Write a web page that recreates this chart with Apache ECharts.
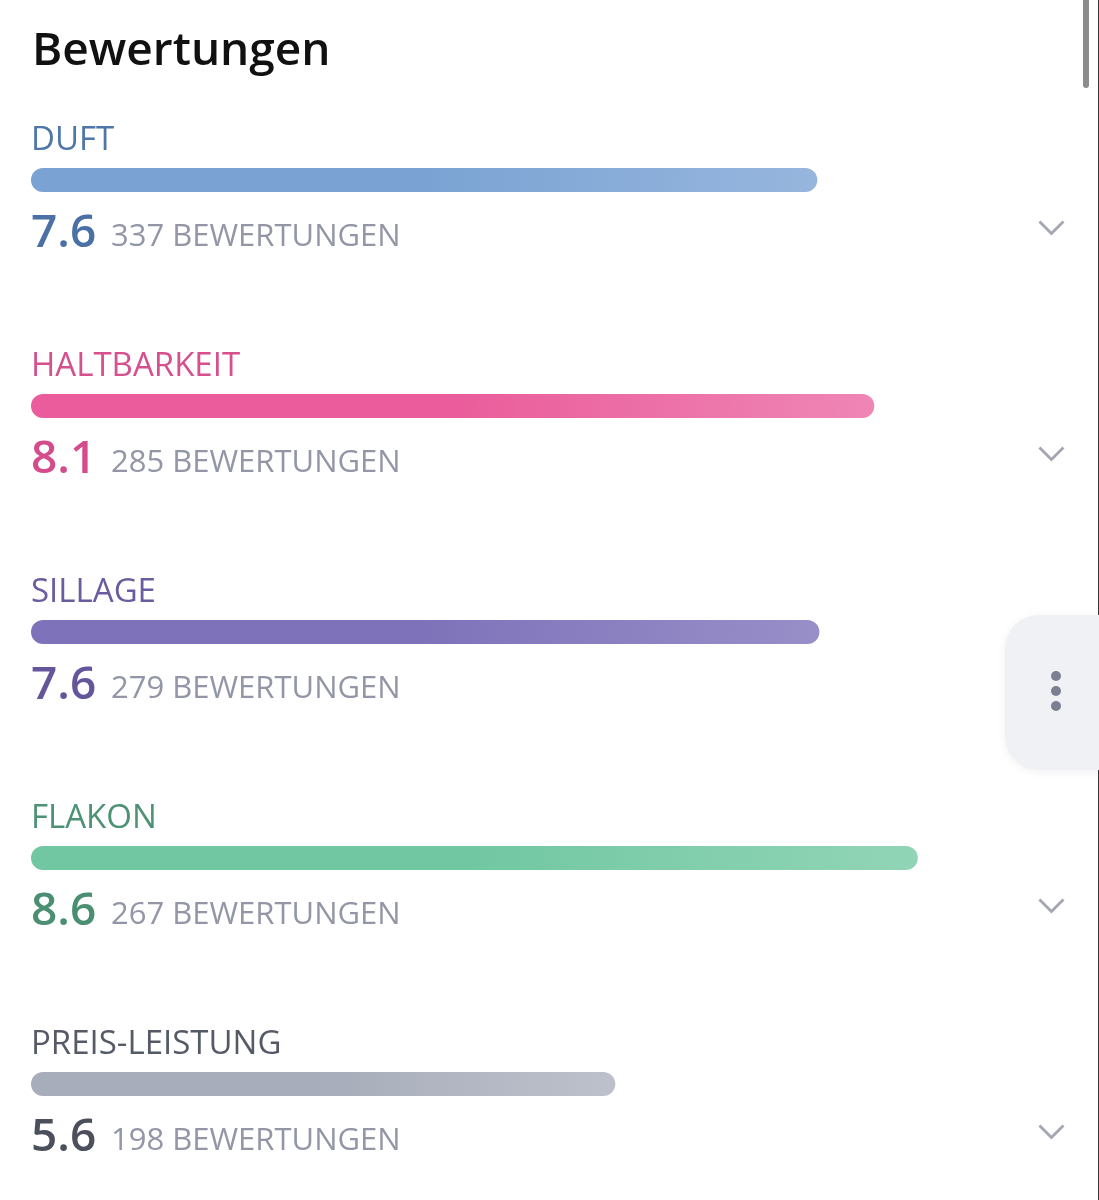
<!DOCTYPE html>
<html><head><meta charset="utf-8">
<script src="https://cdn.jsdelivr.net/npm/echarts@6/dist/echarts.min.js"></script>
<style>html,body{margin:0;padding:0;background:#fff;overflow:hidden}#c{width:1099px;height:1200px}</style>
</head><body><div id="c"></div>
<script>
const categories = ['DUFT', 'HALTBARKEIT', 'SILLAGE', 'FLAKON', 'PREIS-LEISTUNG'];
const scores = [7.59, 8.14, 7.61, 8.56, 5.64];
const ratingCounts = [337, 285, 279, 267, 198];
const countSuffix = 'BEWERTUNGEN';
const chevronRows = ['DUFT', 'HALTBARKEIT', 'FLAKON', 'PREIS-LEISTUNG'];
const barStartColors = ['#7aa3d3', '#ea5c9b', '#7e73ba', '#72c7a3', '#a8adbb'];
const barEndColors = ['#97b6de', '#ef86b5', '#988fc8', '#91d5b6', '#bdc1cb'];
const labelColors = ['#4f76a8', '#d6508e', '#6b5b9f', '#4e9275', '#555a66'];
const valueColors = ['#4a70a6', '#d44c8b', '#65559b', '#4b8f72', '#4b505c'];

const FONT = '"Open Sans", "Noto Sans", sans-serif';

function grad(i) {
  return new echarts.graphic.LinearGradient(0, 0, 1, 0.4, [
    { offset: 0, color: barStartColors[i] },
    { offset: 0.5, color: barStartColors[i] },
    { offset: 1, color: barEndColors[i] }
  ]);
}

const mainData = categories.map((c, i) => ({
  value: scores[i],
  name: c,
  itemStyle: { color: grad(i), borderRadius: 12 },
  label: { color: labelColors[i] }
}));
const valueData = categories.map((c, i) => ({
  value: scores[i],
  name: c,
  label: { color: valueColors[i] }
}));
const countData = categories.map((c, i) => ({ value: scores[i], name: c }));

const chart = echarts.init(document.getElementById('c'), null, { renderer: 'canvas' });
chart.setOption({
  animation: false,
  backgroundColor: '#ffffff',
  title: {
    text: 'Bewertungen',
    left: 32, top: 29, padding: 0,
    textStyle: { fontFamily: FONT, fontSize: 46, fontWeight: 600, color: '#111111' }
  },
  grid: { left: 31, right: 32, top: 67, bottom: 3, containLabel: false },
  xAxis: { type: 'value', min: 0, max: 10, show: false },
  yAxis: { type: 'category', data: categories, inverse: true, show: false },
  series: [
    {
      type: 'bar', name: 'score', data: mainData, barWidth: 24, barGap: '-100%', silent: true,
      label: {
        show: true, position: [0, -27], align: 'left', verticalAlign: 'middle',
        formatter: p => p.name,
        fontFamily: FONT, fontSize: 33, fontWeight: 400
      }
    },
    {
      type: 'bar', name: 'value', data: valueData, barWidth: 24, barGap: '-100%', silent: true,
      itemStyle: { color: 'rgba(0,0,0,0)' },
      label: {
        show: true, position: [0, 66], align: 'left', verticalAlign: 'middle',
        formatter: p => p.value.toFixed(1),
        fontFamily: FONT, fontSize: 46, fontWeight: 600
      }
    },
    {
      type: 'bar', name: 'count', data: countData, barWidth: 24, barGap: '-100%', silent: true,
      itemStyle: { color: 'rgba(0,0,0,0)' },
      label: {
        show: true, position: [80, 69], align: 'left', verticalAlign: 'middle',
        formatter: p => ratingCounts[p.dataIndex] + ' ' + countSuffix,
        fontFamily: FONT, fontSize: 31, fontWeight: 400, color: '#9296a6'
      }
    },
    {
      type: 'scatter', name: 'chevron', silent: true,
      data: chevronRows.map(c => [9.85, c]),
      symbol: 'path://M0,2 L2,0 L13,11 L24,0 L26,2 L13,15 Z',
      symbolSize: [26, 15], symbolKeepAspect: false,
      symbolOffset: [0, 48],
      itemStyle: { color: '#8d909d' }
    }
  ],
  graphic: [
    { type: 'rect', shape: { x: 1083, y: -6, width: 6, height: 94, r: 3 }, style: { fill: '#8c8c8c' } },
    { type: 'rect', shape: { x: 1098, y: 0, width: 1, height: 1200 }, style: { fill: '#3a3a3a' } },
    { type: 'rect', shape: { x: 1005, y: 615, width: 140, height: 155, r: 34 },
      style: { fill: '#eff1f5', shadowBlur: 10, shadowColor: 'rgba(0,0,0,0.06)', shadowOffsetY: 2 } },
    { type: 'circle', shape: { cx: 1056, cy: 676, r: 5 }, style: { fill: '#7b7f90' } },
    { type: 'circle', shape: { cx: 1056, cy: 691, r: 5 }, style: { fill: '#7b7f90' } },
    { type: 'circle', shape: { cx: 1056, cy: 706, r: 5 }, style: { fill: '#7b7f90' } }
  ]
});
</script></body></html>
